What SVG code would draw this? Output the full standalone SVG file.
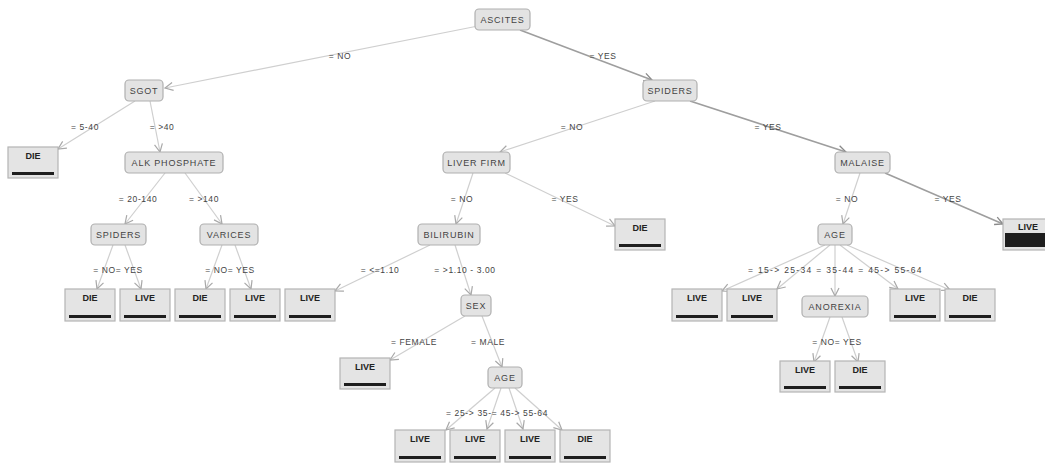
<svg xmlns="http://www.w3.org/2000/svg" width="1045" height="466" viewBox="0 0 1045 466">
<defs>
<marker id="ah" markerWidth="10" markerHeight="10" refX="9" refY="5" orient="auto" markerUnits="userSpaceOnUse">
<path d="M1,1 L9,5 L1,9" fill="none" stroke="#a8a8a8" stroke-width="1.2"/>
</marker>
<marker id="ahd" markerWidth="10" markerHeight="10" refX="9" refY="5" orient="auto" markerUnits="userSpaceOnUse">
<path d="M1,1 L9,5 L1,9" fill="none" stroke="#8a8a8a" stroke-width="1.3"/>
</marker>
<style>
.n rect{fill:#e3e3e3;stroke:#b0b0b0;stroke-width:1.2}
.n text{font-family:"Liberation Sans",Arial,sans-serif;font-size:9px;fill:#444;text-anchor:middle;letter-spacing:0.8px}
.l rect.b{fill:#e4e4e4;stroke:#b4b4b4;stroke-width:1.2}
.l rect.bar{fill:#1e1e1e}
.l text{font-family:"Liberation Sans",Arial,sans-serif;font-size:9px;font-weight:bold;fill:#222;text-anchor:middle}
.e line{stroke:#cfcfcf;stroke-width:1.2;marker-end:url(#ah)}
.e line.d{stroke:#9e9e9e;stroke-width:1.6;marker-end:url(#ahd)}
.e text{font-family:"Liberation Sans",Arial,sans-serif;font-size:8.5px;fill:#444;text-anchor:middle;letter-spacing:0.6px}
</style>
</defs>
<rect width="1045" height="466" fill="#ffffff"/>
<g id="connectors" class="e">
<line x1="478" y1="26" x2="165" y2="88"/>
<line class="d" x1="520" y1="30" x2="652" y2="80"/>
<line x1="135" y1="101" x2="58" y2="149"/>
<line x1="150" y1="101" x2="160" y2="152"/>
<line x1="655" y1="101" x2="500" y2="152"/>
<line class="d" x1="690" y1="101" x2="846" y2="152"/>
<line x1="165" y1="173" x2="125" y2="224"/>
<line x1="185" y1="173" x2="222" y2="224"/>
<line x1="473" y1="173" x2="456" y2="224"/>
<line x1="505" y1="173" x2="615" y2="226"/>
<line x1="860" y1="173" x2="843" y2="224"/>
<line class="d" x1="885" y1="173" x2="1003" y2="224"/>
<line x1="113" y1="245" x2="97" y2="289"/>
<line x1="125" y1="245" x2="141" y2="289"/>
<line x1="222" y1="245" x2="206" y2="289"/>
<line x1="235" y1="245" x2="251" y2="289"/>
<line x1="430" y1="245" x2="335" y2="291"/>
<line x1="455" y1="245" x2="471" y2="295"/>
<line x1="825" y1="245" x2="722" y2="291"/>
<line x1="830" y1="245" x2="777" y2="289"/>
<line x1="835" y1="245" x2="835" y2="296"/>
<line x1="840" y1="245" x2="898" y2="289"/>
<line x1="847" y1="245" x2="950" y2="290"/>
<line x1="465" y1="316" x2="390" y2="360"/>
<line x1="482" y1="316" x2="502" y2="367"/>
<line x1="495" y1="388" x2="446" y2="430"/>
<line x1="501" y1="388" x2="487" y2="429"/>
<line x1="509" y1="388" x2="523" y2="429"/>
<line x1="515" y1="388" x2="562" y2="430"/>
<line x1="830" y1="317" x2="814" y2="362"/>
<line x1="842" y1="317" x2="858" y2="362"/>
<text x="340" y="59">= NO</text>
<text x="603" y="59">= YES</text>
<text x="85" y="130">= 5-40</text>
<text x="162" y="130">= &gt;40</text>
<text x="572" y="130">= NO</text>
<text x="768" y="130">= YES</text>
<text x="138" y="202">= 20-140</text>
<text x="204" y="202">= &gt;140</text>
<text x="462" y="202">= NO</text>
<text x="565" y="202">= YES</text>
<text x="847" y="202">= NO</text>
<text x="948" y="202">= YES</text>
<text x="118" y="273">= NO= YES</text>
<text x="230" y="273">= NO= YES</text>
<text x="380" y="273">= &lt;=1.10</text>
<text x="465" y="273">= &gt;1.10 - 3.00</text>
<text x="748" y="273" style="text-anchor:start" textLength="174" lengthAdjust="spacing">= 15-&gt; 25-34 = 35-44 = 45-&gt; 55-64</text>
<text x="414" y="345">= FEMALE</text>
<text x="488" y="345">= MALE</text>
<text x="837" y="345">= NO= YES</text>
<text x="446" y="416" style="text-anchor:start" textLength="102" lengthAdjust="spacing">= 25-&gt; 35-= 45-&gt; 55-64</text>
</g>
<g id="ascites" class="n"><rect x="475" y="9" width="55" height="21" rx="4"/><text x="502.5" y="23">ASCITES</text></g>
<g id="sgot" class="n"><rect x="125" y="80" width="38" height="21" rx="4"/><text x="144" y="94">SGOT</text></g>
<g id="spiders1" class="n"><rect x="643" y="80" width="54" height="21" rx="4"/><text x="670" y="94">SPIDERS</text></g>
<g id="alk" class="n"><rect x="125" y="152" width="98" height="21" rx="4"/><text x="174" y="166">ALK PHOSPHATE</text></g>
<g id="liverfirm" class="n"><rect x="443" y="152" width="67" height="21" rx="4"/><text x="476.5" y="166">LIVER FIRM</text></g>
<g id="malaise" class="n"><rect x="835" y="152" width="55" height="21" rx="4"/><text x="862.5" y="166">MALAISE</text></g>
<g id="spiders2" class="n"><rect x="91" y="224" width="55" height="21" rx="4"/><text x="118.5" y="238">SPIDERS</text></g>
<g id="varices" class="n"><rect x="200" y="224" width="58" height="21" rx="4"/><text x="229" y="238">VARICES</text></g>
<g id="bilirubin" class="n"><rect x="418" y="224" width="62" height="21" rx="4"/><text x="449" y="238">BILIRUBIN</text></g>
<g id="age1" class="n"><rect x="818" y="224" width="34" height="21" rx="4"/><text x="835" y="238">AGE</text></g>
<g id="sex" class="n"><rect x="461" y="295" width="30" height="21" rx="4"/><text x="476" y="309">SEX</text></g>
<g id="anorexia" class="n"><rect x="802" y="296" width="66" height="21" rx="4"/><text x="835" y="310">ANOREXIA</text></g>
<g id="age2" class="n"><rect x="488" y="367" width="34" height="21" rx="4"/><text x="505" y="381">AGE</text></g>
<g id="leaf-die1" class="l"><rect class="b" x="8" y="147" width="50" height="31"/><text x="33" y="159">DIE</text><rect class="bar" x="12" y="172" width="42" height="3"/></g>
<g id="leaf-die2" class="l"><rect class="b" x="615" y="219" width="50" height="31"/><text x="640" y="231">DIE</text><rect class="bar" x="619" y="244" width="42" height="3"/></g>
<g id="leaf-live-malaise" class="l"><rect class="b" x="1003" y="219" width="50" height="31"/><text x="1028" y="230">LIVE</text><rect class="bar" x="1005" y="233" width="46" height="14"/></g>
<g id="leaf-die3" class="l"><rect class="b" x="65" y="289" width="50" height="32"/><text x="90" y="301">DIE</text><rect class="bar" x="69" y="315" width="42" height="3"/></g>
<g id="leaf-live3" class="l"><rect class="b" x="120" y="289" width="50" height="32"/><text x="145" y="301">LIVE</text><rect class="bar" x="124" y="315" width="42" height="3"/></g>
<g id="leaf-die4" class="l"><rect class="b" x="175" y="289" width="50" height="32"/><text x="200" y="301">DIE</text><rect class="bar" x="179" y="315" width="42" height="3"/></g>
<g id="leaf-live4" class="l"><rect class="b" x="230" y="289" width="50" height="32"/><text x="255" y="301">LIVE</text><rect class="bar" x="234" y="315" width="42" height="3"/></g>
<g id="leaf-live5" class="l"><rect class="b" x="285" y="289" width="50" height="32"/><text x="310" y="301">LIVE</text><rect class="bar" x="289" y="315" width="42" height="3"/></g>
<g id="leaf-live6" class="l"><rect class="b" x="672" y="289" width="50" height="32"/><text x="697" y="301">LIVE</text><rect class="bar" x="676" y="315" width="42" height="3"/></g>
<g id="leaf-live7" class="l"><rect class="b" x="727" y="289" width="50" height="32"/><text x="752" y="301">LIVE</text><rect class="bar" x="731" y="315" width="42" height="3"/></g>
<g id="leaf-live8" class="l"><rect class="b" x="890" y="289" width="50" height="32"/><text x="915" y="301">LIVE</text><rect class="bar" x="894" y="315" width="42" height="3"/></g>
<g id="leaf-die5" class="l"><rect class="b" x="945" y="289" width="50" height="32"/><text x="970" y="301">DIE</text><rect class="bar" x="949" y="315" width="42" height="3"/></g>
<g id="leaf-live-female" class="l"><rect class="b" x="340" y="358" width="50" height="31"/><text x="365" y="370">LIVE</text><rect class="bar" x="344" y="383" width="42" height="3"/></g>
<g id="leaf-live9" class="l"><rect class="b" x="780" y="361" width="50" height="31"/><text x="805" y="373">LIVE</text><rect class="bar" x="784" y="386" width="42" height="3"/></g>
<g id="leaf-die6" class="l"><rect class="b" x="835" y="361" width="50" height="31"/><text x="860" y="373">DIE</text><rect class="bar" x="839" y="386" width="42" height="3"/></g>
<g id="leaf-live10" class="l"><rect class="b" x="395" y="430" width="50" height="32"/><text x="420" y="442">LIVE</text><rect class="bar" x="399" y="456" width="42" height="3"/></g>
<g id="leaf-live11" class="l"><rect class="b" x="450" y="430" width="50" height="32"/><text x="475" y="442">LIVE</text><rect class="bar" x="454" y="456" width="42" height="3"/></g>
<g id="leaf-live12" class="l"><rect class="b" x="505" y="430" width="50" height="32"/><text x="530" y="442">LIVE</text><rect class="bar" x="509" y="456" width="42" height="3"/></g>
<g id="leaf-die7" class="l"><rect class="b" x="560" y="430" width="50" height="32"/><text x="585" y="442">DIE</text><rect class="bar" x="564" y="456" width="42" height="3"/></g>
</svg>
